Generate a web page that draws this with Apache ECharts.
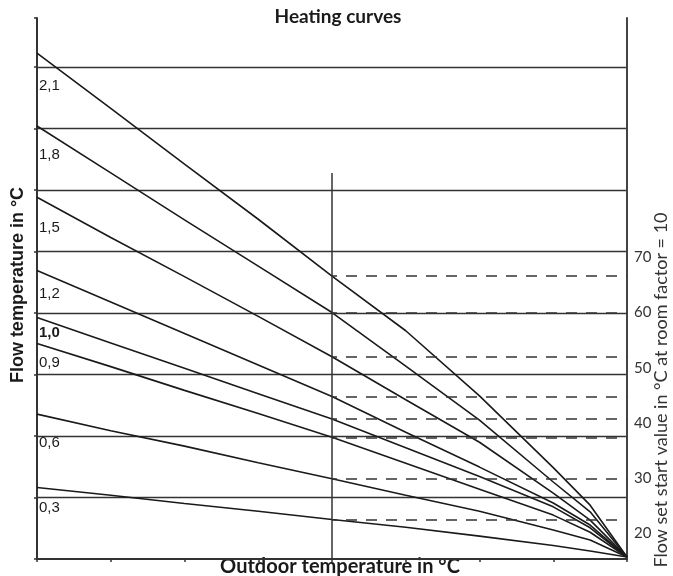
<!DOCTYPE html>
<html>
<head>
<meta charset="utf-8">
<title>Heating curves</title>
<script src="https://cdn.jsdelivr.net/npm/echarts@6/dist/echarts.min.js"></script>
<style>
  html, body { margin: 0; padding: 0; background: #fff; }
  #chart { width: 673px; height: 576px; }
</style>
</head>
<body>
<div id="chart"></div>
<script>
// outdoor temperature positions the curves were read at
const outdoor = [-20, -15, -10, -5, 0, 5, 10, 15, 17.5, 20]

// flow temperature (°C, right scale) of each heating curve
const curveNames = ['2,1', '1,8', '1,5', '1,2', '1,0', '0,9', '0,6', '0,3']
const curve21 = [107.0, 97.0, 86.9, 76.9, 66.6, 56.7, 44.9, 31.9, 25.1, 15.7]
const curve18 = [93.8, 85.3, 76.8, 68.4, 60.0, 50.3, 40.5, 29.3, 23.9, 15.7]
const curve15 = [80.9, 73.6, 66.5, 59.3, 52.0, 44.2, 36.5, 27.3, 22.4, 15.7]
const curve12 = [67.6, 61.9, 56.2, 50.5, 44.8, 38.3, 32.0, 25.5, 21.5, 15.7]
const curve10 = [59.1, 54.5, 49.9, 45.3, 40.7, 35.5, 30.3, 24.8, 21.0, 15.7]
const curve09 = [54.4, 50.2, 45.9, 41.7, 37.4, 32.7, 28.0, 23.3, 20.2, 15.7]
const curve06 = [41.6, 38.6, 35.8, 32.8, 29.9, 26.9, 24.0, 20.6, 18.8, 15.7]
const curve03 = [28.3, 26.9, 25.4, 24.0, 22.5, 21.1, 19.5, 17.8, 16.8, 15.7]
const curves = [curve21, curve18, curve15, curve12, curve10, curve09, curve06, curve03]

// where the curve names sit along the left edge (°C)
const labelAt = [101.0, 88.5, 75.3, 63.4, 56.3, 50.9, 36.4, 24.6]

// right scale tick labels
const rightTicks = [20, 30, 40, 50, 60, 70]
const rightMin = 15.35
const rightMax = 113.36

// reference line at outdoor 0 °C
const dividerX = 0
const dividerTop = 85.3

const ink = '#1a1a1a'
const chart = echarts.init(document.getElementById('chart'))

const series = curves.map((values, i) => ({
  name: curveNames[i],
  type: 'line',
  yAxisIndex: 1,
  symbol: 'none',
  silent: true,
  lineStyle: { color: ink, width: 1.6 },
  data: outdoor.map((x, k) => [x, values[k]]),
  markLine: {
    silent: true,
    symbol: 'none',
    animation: false,
    label: { show: false },
    lineStyle: { color: '#333', width: 1.5, type: [11, 9], dashOffset: 6 },
    data: [[
      { coord: [dividerX, values[outdoor.indexOf(dividerX)]] },
      { coord: [outdoor[outdoor.length - 1], values[outdoor.indexOf(dividerX)]] }
    ]]
  },
  markPoint: {
    silent: true,
    symbol: 'circle',
    symbolSize: 0,
    animation: false,
    label: {
      show: true,
      position: 'right',
      distance: 2,
      color: '#1a1a1a',
      fontFamily: 'Liberation Sans',
      fontSize: 15,
      fontWeight: curveNames[i] === '1,0' ? 'bold' : 'normal',
      formatter: curveNames[i]
    },
    data: [{ coord: [outdoor[0], labelAt[i]] }]
  }
}))

series.push({
  name: 'divider',
  type: 'line',
  yAxisIndex: 1,
  symbol: 'none',
  silent: true,
  lineStyle: { color: '#333', width: 1.5 },
  data: [[dividerX, rightMin], [dividerX, dividerTop]]
})

chart.setOption({
  animation: false,
  grid: { left: 37, right: 46, top: 18, bottom: 17 },
  xAxis: {
    type: 'value',
    min: -20,
    max: 20,
    interval: 5,
    axisLine: { show: true, onZero: false, lineStyle: { color: '#333', width: 2 } },
    axisTick: { show: true, inside: false, length: 3, lineStyle: { color: '#333', width: 1.5 } },
    axisLabel: { show: false },
    splitLine: { show: false }
  },
  yAxis: [{
    type: 'value',
    position: 'left',
    min: 0,
    max: 8.8,
    interval: 1,
    axisLine: { show: true, onZero: false, lineStyle: { color: '#333', width: 2 } },
    axisTick: { show: true, inside: false, length: 3, lineStyle: { color: '#333', width: 1.5 } },
    axisLabel: { show: false },
    splitLine: {
      show: true,
      showMinLine: false,
      showMaxLine: false,
      lineStyle: { color: '#333', width: 1.3 }
    }
  }, {
    type: 'value',
    position: 'right',
    min: rightMin,
    max: rightMax,
    axisLine: { show: true, onZero: false, lineStyle: { color: '#444', width: 2 } },
    axisTick: { show: false },
    axisLabel: {
      show: true,
      customValues: rightTicks,
      margin: 7,
      color: '#333',
      fontFamily: 'Lato',
      fontSize: 15
    },
    splitLine: { show: false }
  }],
  graphic: [{
    type: 'text',
    x: 338,
    y: 17,
    style: {
      text: 'Heating curves',
      fill: '#1a1a1a',
      font: 'bold 19px Lato',
      align: 'center',
      verticalAlign: 'middle'
    }
  }, {
    type: 'text',
    x: 340,
    y: 567,
    style: {
      text: 'Outdoor temperature in °C',
      fill: '#1a1a1a',
      font: 'bold 20px Lato',
      align: 'center',
      verticalAlign: 'middle'
    }
  }, {
    type: 'text',
    x: 18,
    y: 285,
    rotation: Math.PI / 2,
    style: {
      text: 'Flow temperature in °C',
      fill: '#1a1a1a',
      font: 'bold 18px "Liberation Sans"',
      align: 'center',
      verticalAlign: 'middle'
    }
  }, {
    type: 'text',
    x: 661,
    y: 390,
    rotation: Math.PI / 2,
    style: {
      text: 'Flow set start value in °C at room factor = 10',
      fill: '#333',
      font: '18px Lato',
      align: 'center',
      verticalAlign: 'middle'
    }
  }],
  series
})
</script>
</body>
</html>
